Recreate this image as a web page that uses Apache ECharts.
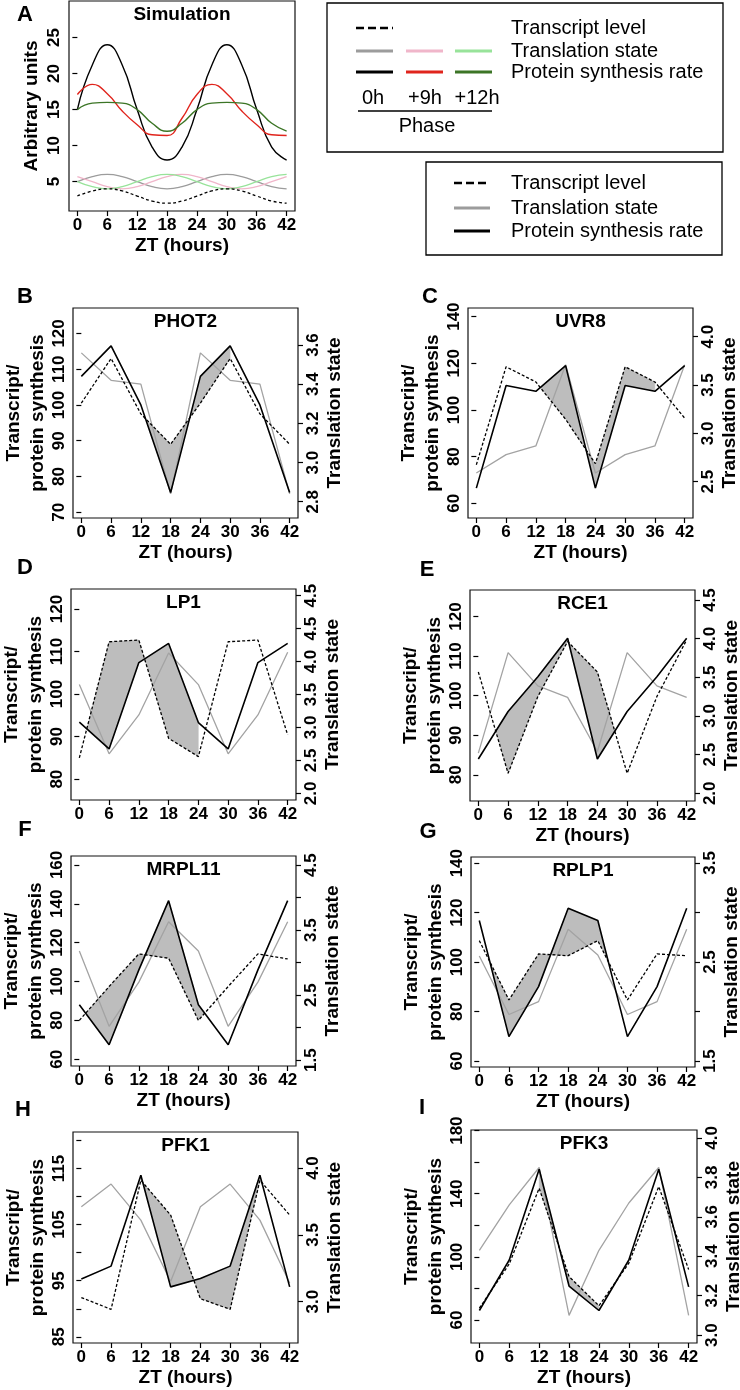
<!DOCTYPE html>
<html>
<head>
<meta charset="utf-8">
<title>Simulation and gene profiles</title>
<script src="https://cdn.jsdelivr.net/npm/echarts@6.0.0/dist/echarts.min.js"></script>
<style>
html,body{margin:0;padding:0;background:#ffffff;}
#chart{width:740px;height:1390px;}
</style>
</head>
<body>
<div id="chart"></div>
<script>
// ================= DATA =================
const ztHours = [0, 6, 12, 18, 24, 30, 36, 42];
const xTickValues = [0, 6, 12, 18, 24, 30, 36, 42];

// Panel A - simulation (sampled every 3 h)
const simHours = [0, 3, 6, 9, 12, 15, 18, 21, 24, 27, 30, 33, 36, 39, 42];
const simTranscript     = [3.0, 3.7, 4.0, 3.7, 3.0, 2.3, 2.0, 2.3, 3.0, 3.7, 4.0, 3.7, 3.0, 2.3, 2.0];
const simTranslation0h  = [5.0, 5.7, 6.0, 5.7, 5.0, 4.3, 4.0, 4.3, 5.0, 5.7, 6.0, 5.7, 5.0, 4.3, 4.0];
const simTranslation9h  = [5.7, 5.0, 4.3, 4.0, 4.3, 5.0, 5.7, 6.0, 5.7, 5.0, 4.3, 4.0, 4.3, 5.0, 5.7];
const simTranslation12h = [5.0, 4.3, 4.0, 4.3, 5.0, 5.7, 6.0, 5.7, 5.0, 4.3, 4.0, 4.3, 5.0, 5.7, 6.0];
const simSynthesis0h    = [15.0, 21.2, 24.0, 21.2, 15.0, 9.8, 8.0, 9.8, 15.0, 21.2, 24.0, 21.2, 15.0, 9.8, 8.0];
const simSynthesis9h    = [17.1, 18.5, 17.2, 14.8, 12.9, 11.5, 11.4, 13.8, 17.1, 18.5, 17.2, 14.8, 12.9, 11.5, 11.4];
const simSynthesis12h   = [15.0, 15.9, 16.0, 15.9, 15.0, 13.1, 12.0, 13.1, 15.0, 15.9, 16.0, 15.9, 15.0, 13.1, 12.0];
const simYTicks = [5, 10, 15, 20, 25];

// Gene panels B - I
const phot2Transcript  = [100.5, 113.0, 97.5, 89.0, 100.5, 113.0, 97.5, 89.0];
const phot2Synthesis   = [108.0, 116.5, 100.0, 75.5, 108.0, 116.5, 100.0, 75.5];
const phot2Translation = [3.56, 3.42, 3.40, 2.84, 3.56, 3.42, 3.40, 2.84];
const phot2Shade = [13.1, 30];
const phot2LeftTicks = [70, 80, 90, 100, 110, 120];
const phot2RightTicks = [2.8, 3.0, 3.2, 3.4, 3.6];

const uvr8Transcript  = [76.5, 118.5, 112.0, 96.0, 77.0, 118.5, 112.0, 96.5];
const uvr8Synthesis   = [66.5, 110.5, 108.0, 119.0, 66.5, 110.5, 108.0, 119.0];
const uvr8Translation = [2.59, 2.78, 2.87, 3.71, 2.59, 2.78, 2.87, 3.71];
const uvr8Shade = [12.9, 36];
const uvr8LeftTicks = [60, 80, 100, 120, 140];
const uvr8RightTicks = [2.5, 3.0, 3.5, 4.0];

const lp1Transcript  = [85.0, 112.3, 112.7, 89.6, 85.3, 112.3, 112.7, 90.4];
const lp1Synthesis   = [93.4, 87.1, 107.4, 111.9, 93.3, 87.1, 107.4, 111.9];
const lp1Translation = [3.65, 2.60, 3.19, 4.13, 3.65, 2.60, 3.19, 4.14];
const lp1Shade = [1.5, 24];
const lp1LeftTicks = [80, 90, 100, 110, 120];
const lp1RightTicks = [2.0, 2.5, 3.0, 3.5, 4.0, 4.5, 5.0];
const lp1RightTickLabels = ['2.0', '2.5', '3.0', '3.5', '4.0', '4.5', '4.5'];

const rce1Transcript  = [106.0, 80.4, 99.8, 113.7, 106.0, 80.4, 99.8, 114.1];
const rce1Synthesis   = [84.0, 96.0, 104.8, 114.5, 84.0, 96.0, 104.8, 114.5];
const rce1Translation = [2.52, 3.82, 3.39, 3.24, 2.54, 3.82, 3.39, 3.24];
const rce1Shade = [3.5, 27.5];
const rce1LeftTicks = [80, 90, 100, 110, 120];
const rce1RightTicks = [2.0, 2.5, 3.0, 3.5, 4.0, 4.5];

const mrpl11Transcript  = [80.0, 97.4, 114.2, 112.0, 80.0, 97.4, 114.2, 111.6];
const mrpl11Synthesis   = [88.0, 67.4, 106.0, 141.6, 88.0, 67.4, 106.0, 141.6];
const mrpl11Translation = [3.18, 2.02, 2.70, 3.63, 3.18, 2.02, 2.70, 3.63];
const mrpl11Shade = [1.3, 25.2];
const mrpl11LeftTicks = [60, 80, 100, 120, 140, 160];
const mrpl11RightTicks = [1.5, 2.0, 2.5, 3.0, 3.5, 4.0, 4.5];
const mrpl11RightLabels = [1.5, 2.5, 3.5, 4.5];

const rplp1Transcript  = [108.7, 84.7, 103.3, 102.6, 108.7, 84.7, 103.3, 102.6];
const rplp1Synthesis   = [116.8, 69.9, 90.1, 121.8, 116.8, 69.9, 90.1, 121.8];
const rplp1Translation = [2.56, 1.97, 2.10, 2.83, 2.57, 1.97, 2.10, 2.83];
const rplp1Shade = [2.1, 26.1];
const rplp1LeftTicks = [60, 80, 100, 120, 140];
const rplp1RightTicks = [1.5, 2.0, 2.5, 3.0, 3.5];
const rplp1RightLabels = [1.5, 2.5, 3.5];

const pfk1Transcript  = [92.0, 89.9, 112.9, 106.7, 91.8, 89.9, 112.9, 106.7];
const pfk1Synthesis   = [95.3, 97.6, 113.8, 93.9, 95.4, 97.6, 113.8, 93.9];
const pfk1Translation = [3.71, 3.88, 3.61, 3.15, 3.71, 3.88, 3.61, 3.14];
const pfk1Shade = [12, 36];
const pfk1LeftTicks = [85, 90, 95, 100, 105, 110, 115, 120];
const pfk1LeftLabels = [85, 95, 105, 115];
const pfk1RightTicks = [3.0, 3.5, 4.0];

const pfk3Transcript  = [67.5, 95.5, 143.5, 87.5, 69.0, 96.0, 144.5, 92.0];
const pfk3Synthesis   = [66.0, 98.0, 155.5, 81.5, 66.0, 98.0, 155.5, 81.0];
const pfk3Translation = [3.43, 3.66, 3.85, 3.10, 3.43, 3.67, 3.85, 3.10];
const pfk3Shade = [12, 24];
const pfk3LeftTicks = [60, 80, 100, 120, 140, 160, 180];
const pfk3LeftLabels = [60, 100, 140, 180];
const pfk3RightTicks = [3.0, 3.2, 3.4, 3.6, 3.8, 4.0];

const geneNames = ['PHOT2', 'UVR8', 'LP1', 'RCE1', 'MRPL11', 'RPLP1', 'PFK1', 'PFK3'];
const panelLetters = ['B', 'C', 'D', 'E', 'F', 'G', 'H', 'I'];

const legendRows = ['Transcript level', 'Translation state', 'Protein synthesis rate'];
const phaseLabels = ['0h', '+9h', '+12h'];

// ================= LAYOUT / STYLE =================
const FONT = '"Liberation Sans", Arial, Helvetica, sans-serif';
const X_MIN = -1.68, X_MAX = 43.68;
const genes = [
  {name: geneNames[0], letter: panelLetters[0], transcript: phot2Transcript, synthesis: phot2Synthesis, translation: phot2Translation, shade: phot2Shade,
   leftTicks: phot2LeftTicks, rightTicks: phot2RightTicks,
   box: [73, 308, 225, 210], left: [68.4, 127.1], right: [2.717, 3.789], letterPos: [25, 297], xName: true},
  {name: geneNames[1], letter: panelLetters[1], transcript: uvr8Transcript, synthesis: uvr8Synthesis, translation: uvr8Translation, shade: uvr8Shade,
   leftTicks: uvr8LeftTicks, rightTicks: uvr8RightTicks,
   box: [468, 308, 225, 210], left: [53.7, 143.7], right: [2.124, 4.297], letterPos: [430, 297], xName: true},
  {name: geneNames[2], letter: panelLetters[2], transcript: lp1Transcript, synthesis: lp1Synthesis, translation: lp1Translation, shade: lp1Shade,
   leftTicks: lp1LeftTicks, rightTicks: lp1RightTicks, rightTexts: lp1RightTickLabels,
   box: [71, 589, 225, 211], left: [75.1, 124.7], right: [1.9, 5.1], letterPos: [25, 568], xName: false},
  {name: geneNames[3], letter: panelLetters[3], transcript: rce1Transcript, synthesis: rce1Synthesis, translation: rce1Translation, shade: rce1Shade,
   leftTicks: rce1LeftTicks, rightTicks: rce1RightTicks,
   box: [470, 590, 225, 211], left: [73.4, 126.7], right: [1.9, 4.63], letterPos: [427, 570], xName: true},
  {name: geneNames[4], letter: panelLetters[4], transcript: mrpl11Transcript, synthesis: mrpl11Synthesis, translation: mrpl11Translation, shade: mrpl11Shade,
   leftTicks: mrpl11LeftTicks, rightTicks: mrpl11RightTicks, rightLabels: mrpl11RightLabels,
   box: [71, 856, 225, 210], left: [56.5, 164.6], right: [1.41, 4.64], letterPos: [25, 830], xName: true},
  {name: geneNames[5], letter: panelLetters[5], transcript: rplp1Transcript, synthesis: rplp1Synthesis, translation: rplp1Translation, shade: rplp1Shade,
   leftTicks: rplp1LeftTicks, rightTicks: rplp1RightTicks, rightLabels: rplp1RightLabels,
   box: [471, 857, 224, 210], left: [57.6, 142.5], right: [1.44, 3.56], letterPos: [428, 832], xName: true},
  {name: geneNames[6], letter: panelLetters[6], transcript: pfk1Transcript, synthesis: pfk1Synthesis, translation: pfk1Translation, shade: pfk1Shade,
   leftTicks: pfk1LeftTicks, leftLabels: pfk1LeftLabels, rightTicks: pfk1RightTicks,
   box: [73, 1132, 225, 211], left: [83.9, 121.5], right: [2.69, 4.27], letterPos: [23, 1110], xName: true},
  {name: geneNames[7], letter: panelLetters[7], transcript: pfk3Transcript, synthesis: pfk3Synthesis, translation: pfk3Translation, shade: pfk3Shade,
   leftTicks: pfk3LeftTicks, leftLabels: pfk3LeftLabels, rightTicks: pfk3RightTicks,
   box: [471, 1130, 226, 213], left: [45.4, 180.4], right: [2.96, 4.04], letterPos: [422, 1108], xName: true}
];

const TICK_STYLE = {color: '#000', width: 1.2};
const LABEL_STYLE = {fontSize: 17, fontWeight: 'bold', color: '#000', fontFamily: FONT};
const NAME_STYLE = {fontSize: 19, fontWeight: 'bold', color: '#000', fontFamily: FONT};

function labelFormatter(values, texts, decimals) {
  return function (v) {
    if (texts) {
      for (let i = 0; i < values.length; i++) {
        if (Math.abs(values[i] - v) < 1e-9) return texts[i];
      }
    }
    return decimals ? Number(v).toFixed(decimals) : String(v);
  };
}

function interp(xs, ys, x) {
  for (let i = 0; i < xs.length - 1; i++) {
    if (x >= xs[i] && x <= xs[i + 1]) {
      const t = (x - xs[i]) / (xs[i + 1] - xs[i]);
      return ys[i] + t * (ys[i + 1] - ys[i]);
    }
  }
  return ys[ys.length - 1];
}

const grids = [], xAxes = [], yAxes = [], series = [], graphics = [];

function addGrid(box) {
  grids.push({left: box[0], top: box[1], width: box[2], height: box[3], show: true,
    borderColor: '#111', borderWidth: 1.2, backgroundColor: 'transparent', outerBoundsMode: 'none'});
  return grids.length - 1;
}
function addXAxis(gi, withName) {
  xAxes.push({type: 'value', gridIndex: gi, min: X_MIN, max: X_MAX,
    axisLine: {show: false}, splitLine: {show: false},
    axisTick: {show: true, customValues: xTickValues, length: 5, lineStyle: TICK_STYLE},
    axisLabel: {customValues: xTickValues, margin: 6, ...LABEL_STYLE},
    name: withName ? 'ZT (hours)' : '', nameLocation: 'middle', nameGap: 25,
    nameTextStyle: {...NAME_STYLE, lineHeight: 20}});
  return xAxes.length - 1;
}
function addYAxis(gi, pos, range, ticks, labelVals, labelTexts, decimals, name, nameGap, margin) {
  yAxes.push({type: 'value', gridIndex: gi, position: pos, min: range[0], max: range[1],
    axisLine: {show: false}, splitLine: {show: false},
    axisTick: {show: true, customValues: ticks, length: 5, lineStyle: TICK_STYLE},
    axisLabel: {customValues: labelVals, rotate: 90, margin: margin,
      formatter: labelFormatter(ticks, labelTexts, decimals), ...LABEL_STYLE},
    name: name, nameLocation: 'middle', nameRotate: 90, nameGap: nameGap,
    nameTextStyle: {...NAME_STYLE, lineHeight: 24}});
  return yAxes.length - 1;
}
function lineSeries(xi, yi, xs, ys, color, width, dash, smooth, z) {
  series.push({type: 'line', xAxisIndex: xi, yAxisIndex: yi,
    data: xs.map((h, i) => [h, ys[i]]), showSymbol: false, symbol: 'none', smooth: smooth,
    lineStyle: {color: color, width: width, type: dash || 'solid'}, z: z, silent: true});
}
function textEl(txt, x, y, size, weight, align) {
  return {type: 'text', x: x, y: y, silent: true,
    style: {text: txt, fontSize: size, fontWeight: weight, fontFamily: FONT, fill: '#000',
      align: align || 'center', textAlign: align || 'center', verticalAlign: 'middle', textVerticalAlign: 'middle'}};
}
function lineEl(x1, y1, x2, y2, color, w, dash) {
  return {type: 'line', silent: true, shape: {x1: x1, y1: y1, x2: x2, y2: y2},
    style: {stroke: color, lineWidth: w, lineDash: dash || null}};
}

// ----- Panel A -----
(function () {
  const box = [69, 1, 226, 210];
  const gi = addGrid(box);
  const xi = addXAxis(gi, true);
  const yi = addYAxis(gi, 'left', [0.92, 30.08], simYTicks, simYTicks, null, 0, 'Arbitrary units', 25, 6);
  lineSeries(xi, yi, simHours, simTranslation0h, '#9c9c9c', 1.3, null, true, 2);
  lineSeries(xi, yi, simHours, simTranslation9h, '#f0b6ca', 1.3, null, true, 2);
  lineSeries(xi, yi, simHours, simTranslation12h, '#98e39a', 1.3, null, true, 2);
  lineSeries(xi, yi, simHours, simTranscript, '#000', 1.3, [3, 2.5], true, 3);
  lineSeries(xi, yi, simHours, simSynthesis0h, '#000', 1.4, null, true, 4);
  lineSeries(xi, yi, simHours, simSynthesis9h, '#e0241c', 1.4, null, true, 4);
  lineSeries(xi, yi, simHours, simSynthesis12h, '#3c7526', 1.4, null, true, 4);
  graphics.push(textEl('A', 25, 15, 22, 'bold'));
  graphics.push(textEl('Simulation', box[0] + box[2] / 2, box[1] + 14, 19, 'bold'));
})();

// ----- Panels B-I -----
genes.forEach(function (g) {
  const gi = addGrid(g.box);
  const xi = addXAxis(gi, g.xName);
  const yl = addYAxis(gi, 'left', g.left, g.leftTicks, g.leftLabels || g.leftTicks, null, 0,
    'Transcript/\nprotein synthesis', 17, 5);
  const yr = addYAxis(gi, 'right', g.right, g.rightTicks, g.rightLabels || g.rightTicks, g.rightTexts || null, 1,
    'Translation state', 25, 7);
  const synth = g.synthesis, trans = g.transcript;
  series.push({type: 'custom', xAxisIndex: xi, yAxisIndex: yl, z: 1, silent: true,
    dimensions: ['start', 'end'], encode: {x: [0, 1]},
    data: [g.shade],
    renderItem: function (params, api) {
      const a = api.value(0), b = api.value(1);
      const xs = [a].concat(ztHours.filter(h => h > a && h < b)).concat([b]);
      const top = xs.map(x => api.coord([x, interp(ztHours, synth, x)]));
      const bot = xs.slice().reverse().map(x => api.coord([x, interp(ztHours, trans, x)]));
      return {type: 'polygon', shape: {points: top.concat(bot)}, style: {fill: '#bdbdbd', stroke: '#c6c6c6', lineWidth: 0.5}};
    }});
  lineSeries(xi, yr, ztHours, g.translation, '#a3a3a3', 1.3, null, false, 2);
  lineSeries(xi, yl, ztHours, g.transcript, '#000', 1.3, [3, 2], false, 3);
  lineSeries(xi, yl, ztHours, g.synthesis, '#000', 1.6, null, false, 4);
  graphics.push(textEl(g.letter, g.letterPos[0], g.letterPos[1], 22, 'bold'));
  graphics.push(textEl(g.name, g.box[0] + g.box[2] / 2, g.box[1] + 14, 19, 'bold'));
});

// ----- Legends -----
graphics.push({type: 'rect', silent: true, shape: {x: 327, y: 3, width: 396, height: 149},
  style: {fill: 'transparent', stroke: '#000', lineWidth: 1.3}});
graphics.push(lineEl(356, 28, 393, 28, '#000', 2.5, [8, 4]));
graphics.push(lineEl(356, 51, 393, 51, '#9c9c9c', 3));
graphics.push(lineEl(406, 51, 443, 51, '#f0b6ca', 3));
graphics.push(lineEl(455, 51, 492, 51, '#98e39a', 3));
graphics.push(lineEl(356, 72, 393, 72, '#000', 3));
graphics.push(lineEl(406, 72, 443, 72, '#e0241c', 3));
graphics.push(lineEl(455, 72, 492, 72, '#3c7526', 3));
graphics.push(textEl(legendRows[0], 511, 28, 20, 'normal', 'left'));
graphics.push(textEl(legendRows[1], 511, 51, 20, 'normal', 'left'));
graphics.push(textEl(legendRows[2], 511, 72, 20, 'normal', 'left'));
graphics.push(textEl(phaseLabels[0], 373, 98, 20, 'normal'));
graphics.push(textEl(phaseLabels[1], 425, 98, 20, 'normal'));
graphics.push(textEl(phaseLabels[2], 477, 98, 20, 'normal'));
graphics.push(lineEl(358, 111, 492, 111, '#000', 1.3));
graphics.push(textEl('Phase', 427, 126, 20, 'normal'));

graphics.push({type: 'rect', silent: true, shape: {x: 426, y: 162, width: 296, height: 93},
  style: {fill: 'transparent', stroke: '#000', lineWidth: 1.3}});
graphics.push(lineEl(454, 183, 490, 183, '#000', 2.5, [8, 4]));
graphics.push(lineEl(454, 208, 490, 208, '#9c9c9c', 3));
graphics.push(lineEl(454, 231, 490, 231, '#000', 3));
graphics.push(textEl(legendRows[0], 511, 183, 20, 'normal', 'left'));
graphics.push(textEl(legendRows[1], 511, 208, 20, 'normal', 'left'));
graphics.push(textEl(legendRows[2], 511, 231, 20, 'normal', 'left'));

const chart = echarts.init(document.getElementById('chart'), null, {renderer: 'canvas', width: 740, height: 1390});
chart.setOption({
  animation: false,
  backgroundColor: '#ffffff',
  grid: grids,
  xAxis: xAxes,
  yAxis: yAxes,
  series: series,
  graphic: {elements: graphics}
});
</script>
</body>
</html>
